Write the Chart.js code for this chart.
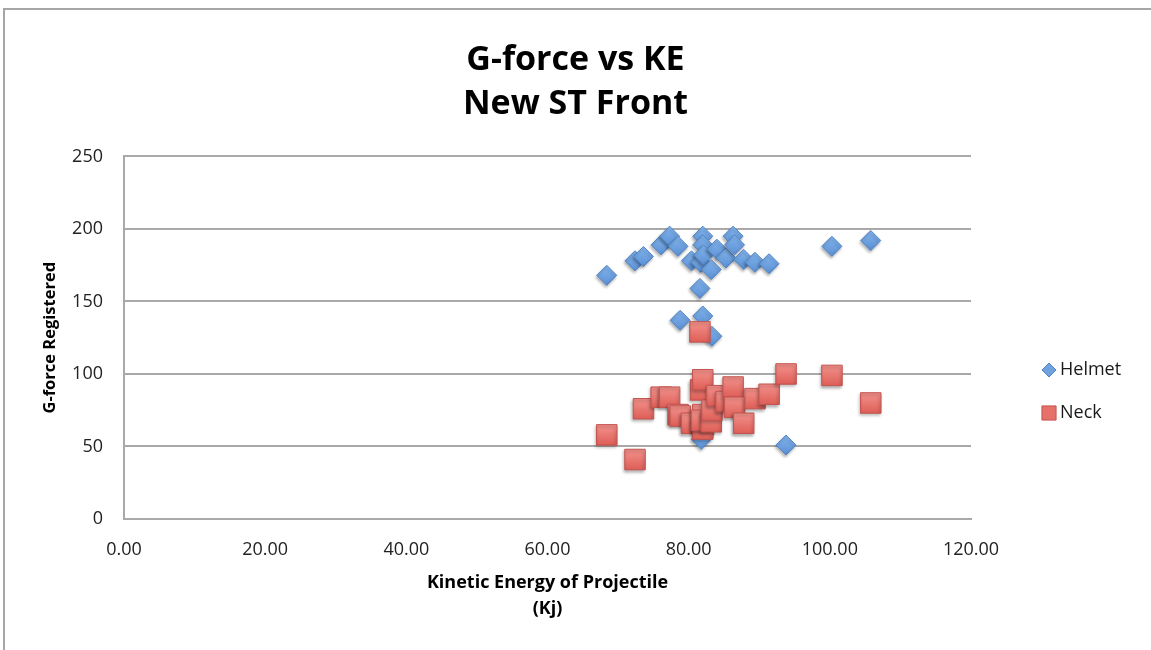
<!DOCTYPE html>
<html>
<head>
<meta charset="utf-8">
<title>G-force vs KE</title>
<script src="https://cdn.jsdelivr.net/npm/chart.js@4.4.1/dist/chart.umd.min.js"></script>
<style>
    html, body { margin: 0; padding: 0; background: #ffffff; }
    #wrap { position: relative; width: 1151px; height: 650px; }
    #frame {
        position: absolute; left: 3px; top: 8px; right: 0; bottom: 0;
        border-left: 2px solid #a6a6a6; border-top: 2px solid #a6a6a6;
        pointer-events: none;
    }
    canvas { position: absolute; left: 0; top: 0; }
</style>
</head>
<body>
<div id="wrap">
    <canvas id="gforce-chart" width="1151" height="650"></canvas>
    <div id="frame"></div>
</div>
<script>
// Kinetic energy of each shot (Kj) and the g-force logged at helmet and neck
const keValues = [68.4, 72.4, 73.6, 76.1, 77.3, 78.5, 78.8, 80.4, 81.6, 81.7, 82.0, 82.0, 82.1, 82.0,
    81.8, 83.2, 83.3, 84.0, 85.3, 86.3, 86.5, 87.8, 89.4, 91.4, 93.8, 100.3, 105.8];
const helmetValues = [168, 178, 181, 189, 195, 188, 137, 178, 159, 177, 195, 189, 182, 140,
    55, 172, 126, 186, 180, 195, 189, 179, 177, 176, 51, 188, 192];
const neckValues = [58, 41, 76, 84, 84, 72, 71, 66, 129, 89, 96, 72, 65, 62,
    68, 67, 75, 85, 81, 91, 77, 66, 83, 86, 100, 99, 80];

const seriesNames = ['Helmet', 'Neck'];
const titleLines = ['G-force vs KE', 'New ST Front'];
const xTitleLines = ['Kinetic Energy of Projectile', '(Kj)'];
const yTitle = 'G-force Registered';
const xTicks = [0, 20, 40, 60, 80, 100, 120];
const yTicks = [0, 50, 100, 150, 200, 250];

const toPoints = (ys) => keValues.map((x, i) => ({ x: x, y: ys[i] }));

const fontFamily = "'Open Sans', 'Noto Sans', sans-serif";
const gridColor = '#a9a9a9';

// vertical gradient fill for a marker, lighter on top
const markerFill = (top, bottom, flat, radius) => (c) => {
    const chart = c.chart;
    if (c.type !== 'data' || !chart.chartArea) {
        return flat;
    }
    const y = chart.scales.y.getPixelForValue(c.parsed.y);
    const g = chart.ctx.createLinearGradient(0, y - radius, 0, y + radius);
    g.addColorStop(0, top);
    g.addColorStop(1, bottom);
    return g;
};

// soft drop shadow under the markers
const markerShadow = {
    id: 'markerShadow',
    beforeDatasetsDraw(chart) {
        const ctx = chart.ctx;
        ctx.save();
        ctx.shadowColor = 'rgba(0, 0, 0, 0.3)';
        ctx.shadowBlur = 3;
        ctx.shadowOffsetX = -1;
        ctx.shadowOffsetY = 2;
    },
    afterDatasetsDraw(chart) {
        chart.ctx.restore();
    }
};

// legend on the right, one entry per dataset in array order
const sideLegend = {
    id: 'sideLegend',
    afterDraw(chart) {
        const ctx = chart.ctx;
        const rows = [370, 413];
        const swatches = ['#6fa2df', '#e6716b'];
        ctx.save();
        chart.data.datasets.forEach((ds, i) => {
            const y = rows[i];
            ctx.fillStyle = swatches[i];
            ctx.strokeStyle = ds.borderColor;
            ctx.lineWidth = 1;
            Chart.helpers.drawPoint(ctx, {
                pointStyle: ds.pointStyle,
                radius: ds.pointStyle === 'rect' ? 10 : 7,
                rotation: 0,
                borderWidth: 1
            }, 1049, y);
            ctx.fillStyle = '#1a1a1a';
            ctx.font = '18px ' + fontFamily;
            ctx.textAlign = 'left';
            ctx.textBaseline = 'middle';
            ctx.fillText(ds.label, 1060, y);
        });
        ctx.restore();
    }
};

const gforceChart = new Chart(document.getElementById('gforce-chart'), {
    type: 'scatter',
    data: {
        datasets: [{
            label: seriesNames[0],
            data: toPoints(helmetValues),
            pointStyle: 'rectRot',
            pointRadius: 10,
            pointHoverRadius: 10,
            backgroundColor: markerFill('#84b6ee', '#5a8fd3', '#6fa2df', 10),
            borderColor: '#5185c6',
            borderWidth: 1,
            order: 2
        }, {
            label: seriesNames[1],
            data: toPoints(neckValues),
            pointStyle: 'rect',
            pointRadius: 14.5,
            pointHoverRadius: 14.5,
            backgroundColor: markerFill('#f3918b', '#de5f58', '#e6716b', 10),
            borderColor: '#c4544f',
            borderWidth: 1,
            order: 1
        }]
    },
    options: {
        responsive: false,
        animation: false,
        layout: { padding: 0 },
        plugins: {
            legend: { display: false },
            tooltip: { enabled: false },
            title: {
                display: true,
                text: titleLines,
                color: '#000000',
                font: { family: fontFamily, size: 34, weight: 'bold', lineHeight: 1.3 },
                padding: { top: 38, bottom: 30 }
            }
        },
        scales: {
            x: {
                type: 'linear',
                min: 0,
                max: 120,
                afterBuildTicks: (scale) => { scale.ticks = xTicks.map((v) => ({ value: v })); },
                afterFit: (scale) => { scale.height = 131; },
                grid: { display: false, drawTicks: false },
                border: { display: true, color: gridColor, width: 2 },
                ticks: {
                    color: '#222222',
                    padding: 20,
                    font: { family: fontFamily, size: 18 },
                    callback: (v) => Number(v).toFixed(2)
                },
                title: {
                    display: true,
                    text: xTitleLines,
                    color: '#000000',
                    font: { family: fontFamily, size: 18, weight: 'bold', lineHeight: 1.4 },
                    padding: { top: 0, bottom: 29 }
                }
            },
            y: {
                type: 'linear',
                min: 0,
                max: 250,
                afterBuildTicks: (scale) => { scale.ticks = yTicks.map((v) => ({ value: v })); },
                afterFit: (scale) => { scale.width = 124; },
                grid: { color: gridColor, lineWidth: 2, drawTicks: false },
                border: { display: true, color: gridColor, width: 2 },
                ticks: {
                    color: '#222222',
                    padding: 21,
                    font: { family: fontFamily, size: 18 }
                },
                title: {
                    display: true,
                    text: yTitle,
                    color: '#000000',
                    font: { family: fontFamily, size: 16.5, weight: 'bold' },
                    padding: { top: 40, bottom: 0 }
                }
            },
            // empty right-hand axis that keeps room for the legend
            legendGap: {
                type: 'linear',
                position: 'right',
                afterFit: (scale) => { scale.width = 180; },
                grid: { display: false, drawTicks: false },
                border: { display: false },
                ticks: { display: false }
            }
        }
    },
    plugins: [markerShadow, sideLegend]
});
</script>
</body>
</html>
